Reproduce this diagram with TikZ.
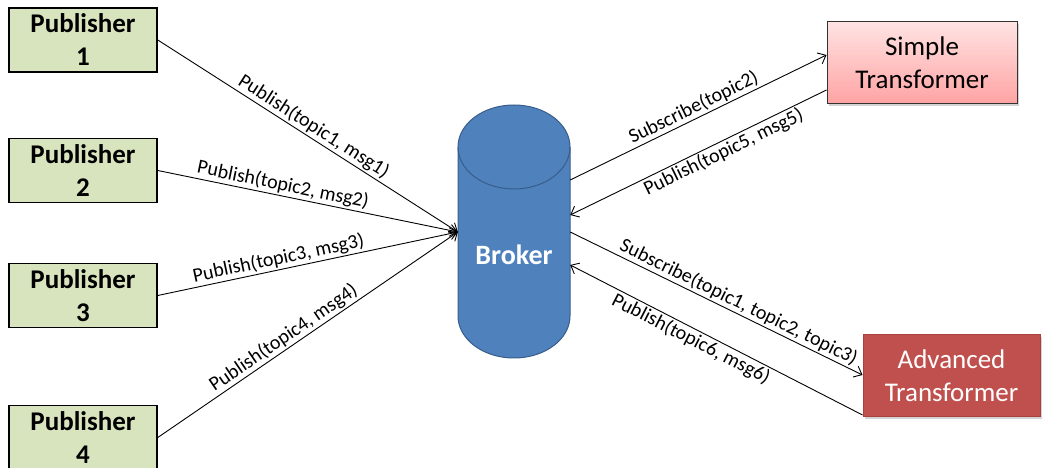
\documentclass[tikz,border=0pt]{standalone}
\usepackage{fontspec}
\setmainfont{Carlito}
\usetikzlibrary{arrows.meta,shadows}
\definecolor{pubgreen}{HTML}{D7E4BD}
\definecolor{brokerblue}{HTML}{4F81BD}
\definecolor{brokeredge}{HTML}{385D8A}
\definecolor{advred}{HTML}{C0504D}
\definecolor{advedge}{HTML}{A9403D}
\definecolor{pinktop}{HTML}{FFE3E3}
\definecolor{pinkbot}{HTML}{FFA3A3}
\tikzset{
  pubbox/.style={draw=black, line width=1.6pt, fill=pubgreen, minimum width=148pt, minimum height=64pt,
    align=center, font=\fontsize{27}{33}\selectfont\bfseries, inner sep=0pt},
  simplebox/.style={draw=black!80, line width=1pt, top color=pinktop, bottom color=pinkbot,
    minimum width=190pt, minimum height=82pt, align=center, font=\fontsize{27}{33}\selectfont,
    drop shadow={shadow xshift=2pt, shadow yshift=-2pt, opacity=0.35}},
  advbox/.style={draw=advedge, line width=1pt, fill=advred, text=white,
    minimum width=177pt, minimum height=82pt, align=center, font=\fontsize{27}{33}\selectfont,
    drop shadow={shadow xshift=2pt, shadow yshift=-2pt, opacity=0.35}},
  msg/.style={line width=0.9pt, -{Straight Barb[length=7pt,width=12pt]}},
  lbl/.style={font=\fontsize{20}{22}\selectfont, sloped, inner sep=1.5pt}
}
\begin{document}
\begin{tikzpicture}[x=1pt,y=1pt]
\useasboundingbox (0,0) rectangle (1043,468);
% Publishers
\node[pubbox] (p1) at (83,428) {Publisher\\1};
\node[pubbox] (p2) at (83,297.5) {Publisher\\2};
\node[pubbox] (p3) at (83,172.5) {Publisher\\3};
\node[pubbox] (p4) at (83,30.5) {Publisher\\4};
% Broker cylinder
\fill[brokerblue] (458,321) -- (458,152) arc (180:360:56 and 42) -- (570,321) arc (0:180:56 and 42) -- cycle;
\draw[brokeredge, line width=1pt] (458,321) -- (458,152) arc (180:360:56 and 42) -- (570,321) arc (0:180:56 and 42) -- cycle;
\draw[brokeredge, line width=1pt] (458,321) arc (180:360:56 and 42);
\node[minimum width=112pt, minimum height=253pt, inner sep=0pt] (broker) at (514,236) {};
\node[text=white, font=\fontsize{28}{32}\selectfont\bfseries] (blabel) at (514,213) {Broker};
% Transformers
\node[simplebox] (st) at (922,405) {Simple\\Transformer};
\node[advbox] (at) at (951.5,92) {Advanced\\Transformer};
% Publisher arrows
\draw[msg] (p1.east) -- node[lbl, above, pos=0.5] {Publish(topic1, msg1)} (broker.west);
\draw[msg] (p2.east) -- node[lbl, above, pos=0.41] {Publish(topic2, msg2)} (broker.west);
\draw[msg] (p3.east) -- node[lbl, above, pos=0.41] {Publish(topic3, msg3)} (broker.west);
\draw[msg] (p4.east) -- node[lbl, above, pos=0.44] {Publish(topic4, msg4)} (broker.west);
% Right side
\draw[msg] ([yshift=52pt]broker.east) -- node[lbl, above, pos=0.5] {Subscribe(topic2)} ([yshift=8pt]st.west);
\draw[msg] ([yshift=-27pt]st.west) -- node[lbl, below, pos=0.42] {Publish(topic5, msg5)} ([yshift=17pt]broker.east);
\draw[msg] (broker.east) -- node[lbl, above, pos=0.56] {Subscribe(topic1, topic2, topic3)} ([yshift=1pt]at.west);
\draw[msg] ([yshift=-39pt]at.west) -- node[lbl, below, pos=0.57] {Publish(topic6, msg6)} ([yshift=-33pt]broker.east);
\end{tikzpicture}
\end{document}
